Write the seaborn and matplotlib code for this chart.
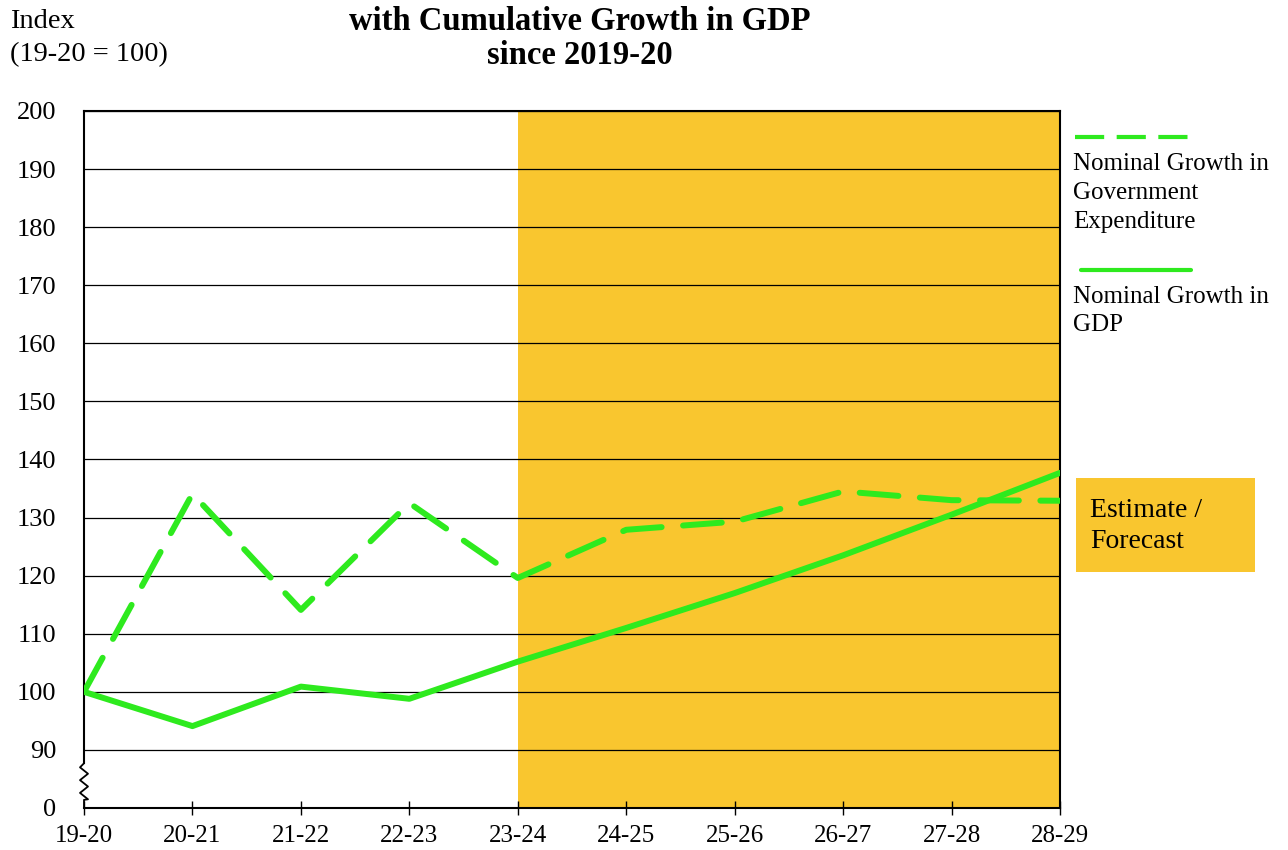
import pandas as pd
import matplotlib.pyplot as plt
import seaborn as sns
from matplotlib.lines import Line2D
from matplotlib.patches import Rectangle

# Data
years = ["19-20", "20-21", "21-22", "22-23", "23-24",
         "24-25", "25-26", "26-27", "27-28", "28-29"]
gov_exp = [100, 134.1, 114.1, 132.5, 119.6, 127.9, 129.3, 134.5, 133.0, 132.9]
gdp = [100, 94.1, 100.9, 98.8, 105.2, 111.0, 117.0, 123.5, 130.5, 137.7]
y_ticks = [80, 90, 100, 110, 120, 130, 140, 150, 160, 170, 180, 190, 200]
y_labels = ["0", "90", "100", "110", "120", "130", "140", "150",
            "160", "170", "180", "190", "200"]

green = "#2EEA1E"
gold = "#F9C62F"

df = pd.DataFrame({
    "pos": list(range(len(years))) * 2,
    "value": gov_exp + gdp,
    "series": ["Gov"] * len(years) + ["GDP"] * len(years),
})

sns.set_theme(style="white")
plt.rcParams["font.family"] = ["Liberation Serif", "DejaVu Serif"]
plt.rcParams["text.color"] = "black"
plt.rcParams["xtick.color"] = "black"
plt.rcParams["ytick.color"] = "black"

W, H = 1288, 850
fig = plt.figure(figsize=(W / 100, H / 100), dpi=100)
ax = fig.add_axes([84 / W, 1 - 808 / H, (1060 - 84) / W, (808 - 111) / H])

# forecast shading
ax.axvspan(4, 9, color=gold, zorder=0.1, lw=0)

sns.lineplot(data=df, x="pos", y="value", style="series",
             dashes={"Gov": (6.5, 3.6), "GDP": ""}, color=green,
             linewidth=4.3, legend=False, ax=ax, zorder=3,
             dash_capstyle="round", solid_capstyle="round")

ax.set_xlim(0, 9)
ax.set_ylim(80, 200)
ax.set_xticks(range(len(years)))
ax.set_xticklabels(years, fontsize=18)
ax.set_yticks(y_ticks)
ax.set_yticklabels(y_labels, fontsize=19)
ax.set_xlabel("")
ax.set_ylabel("")
ax.set_axisbelow(True)
ax.yaxis.grid(True, color="black", lw=0.9)
ax.xaxis.grid(False)
ax.tick_params(axis="x", direction="inout", length=10, width=1,
               color="black", pad=7, bottom=True)
ax.tick_params(axis="y", length=0, pad=20)

for s in ["top", "right", "bottom", "left"]:
    ax.spines[s].set_color("black")
    ax.spines[s].set_linewidth(1.5)
ax.spines["left"].set_bounds(87.7, 200)

# axis break zigzag
tr = ax.get_yaxis_transform()
dx = 4 / 976
zz_y = [87.7, 87.0, 85.9, 84.8, 83.7, 82.6, 81.5, 81.4, 80]
zz_x = [0, -dx, dx, -dx, dx, -dx, dx, 0, 0]
ax.plot(zz_x, zz_y, color="black", lw=1.3, transform=tr, clip_on=False)

# titles and axis caption
fig.text(580 / W, 1 - 21 / H, "with Cumulative Growth in GDP", ha="center",
         va="center", fontsize=23.5, fontweight="bold")
fig.text(580 / W, 1 - 55 / H, "since 2019-20", ha="center",
         va="center", fontsize=23.5, fontweight="bold")
fig.text(10 / W, 1 - 22 / H, "Index", ha="left", va="center", fontsize=20.5)
fig.text(10 / W, 1 - 55 / H, "(19-20 = 100)", ha="left", va="center",
         fontsize=20.5)

# legend drawn to the right of the plot
fig.add_artist(Line2D([1075 / W, 1190 / W], [1 - 137 / H, 1 - 137 / H],
                      color=green, lw=3, dashes=(7, 3)))
fig.text(1073 / W, 1 - 193 / H, "Nominal Growth in\nGovernment\nExpenditure",
         ha="left", va="center", fontsize=18, linespacing=1.4)
fig.add_artist(Line2D([1081 / W, 1191 / W], [1 - 270 / H, 1 - 270 / H],
                      color=green, lw=3))
fig.text(1073 / W, 1 - 311 / H, "Nominal Growth in\nGDP",
         ha="left", va="center", fontsize=18, linespacing=1.4)

# estimate / forecast box
fig.add_artist(Rectangle((1076 / W, 1 - 572 / H), (1255 - 1076) / W,
                         (572 - 478) / H, transform=fig.transFigure,
                         color=gold, lw=0))
fig.text(1090 / W, 1 - 526 / H, "Estimate /\nForecast", ha="left",
         va="center", fontsize=20, linespacing=1.3)

fig.savefig("out.png", dpi=100)
plt.close(fig)
